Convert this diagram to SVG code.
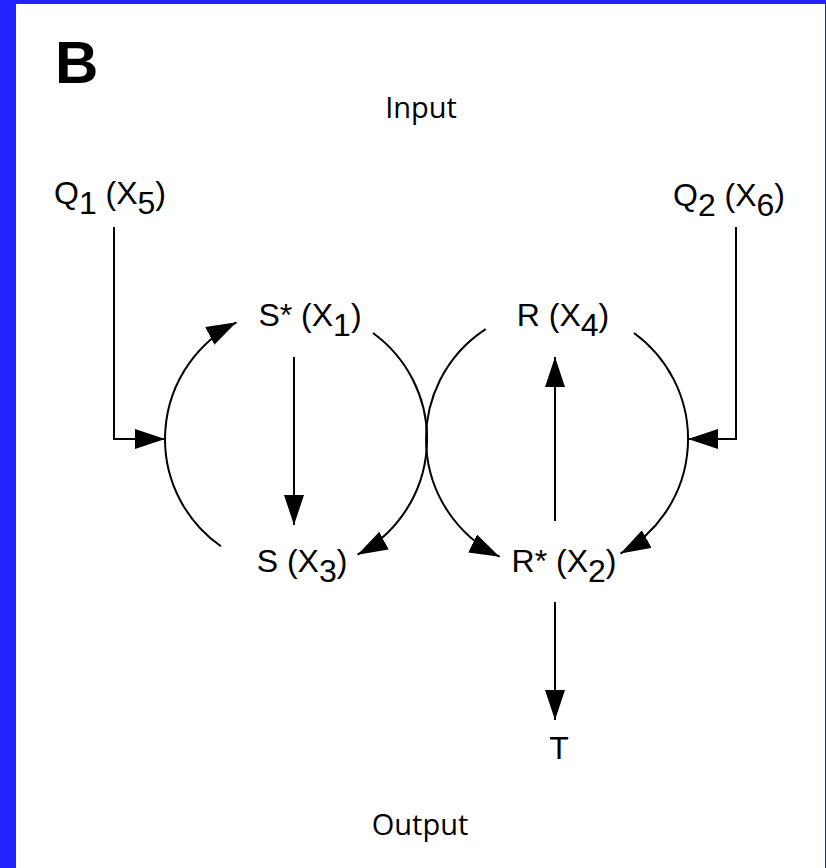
<svg xmlns="http://www.w3.org/2000/svg" width="826" height="868" viewBox="0 0 826 868">
<defs>
<style>
.lbl{font-family:"Liberation Sans",Arial,sans-serif;font-size:32px;fill:#000;text-anchor:middle}
.io{font-family:"Open Sans","Liberation Sans",sans-serif;font-size:29px;fill:#000;text-anchor:middle}
.ln{fill:none;stroke:#000;stroke-width:2}
</style>
<marker id="ah" markerUnits="userSpaceOnUse" markerWidth="30" markerHeight="20" refX="30" refY="10" orient="auto" viewBox="0 0 30 20">
<path d="M0,0 L30,10 L0,20 z" fill="#000"/>
</marker>
</defs>
<rect x="0" y="0" width="826" height="868" fill="#fff"/>
<rect x="0" y="0" width="16" height="868" fill="#2222ff"/>
<rect x="0" y="0" width="826" height="4" fill="#2222ff"/>
<rect x="825" y="0" width="1" height="868" fill="#2222ff"/>
<text x="55" y="83" font-family="Liberation Sans,Arial,sans-serif" font-weight="bold" font-size="60">B</text>
<text class="io" x="421" y="118">Input</text>
<text class="io" x="420" y="835">Output</text>
<g id="connectors">
<path class="ln" marker-end="url(#ah)" d="M220.9,546.3 A131,131 0 0 1 236.5,322.3"/>
<path class="ln" marker-end="url(#ah)" d="M373,333 A131,131 0 0 1 357.5,554.7"/>
<path class="ln" marker-end="url(#ah)" d="M485.7,329.1 A131,131 0 0 0 499.6,556.7"/>
<path class="ln" marker-end="url(#ah)" d="M634,333 A131,131 0 0 1 620.5,553.6"/>
<path class="ln" marker-end="url(#ah)" d="M114,227 V439 H165"/>
<path class="ln" marker-end="url(#ah)" d="M736,227 V439 H688"/>
<path class="ln" marker-end="url(#ah)" d="M294,357 V525"/>
<path class="ln" marker-end="url(#ah)" d="M555,521 V357"/>
<path class="ln" marker-end="url(#ah)" d="M555,602 V720"/>
</g>
<g id="Q1"><text class="lbl" x="110" y="204">Q<tspan dy="10">1</tspan><tspan dy="-10"> (X</tspan><tspan dy="10">5</tspan><tspan dy="-10">)</tspan></text></g>
<g id="Q2"><text class="lbl" x="729" y="206">Q<tspan dy="10">2</tspan><tspan dy="-10"> (X</tspan><tspan dy="10">6</tspan><tspan dy="-10">)</tspan></text></g>
<g id="Sstar"><text class="lbl" x="310" y="326">S* (X<tspan dy="10">1</tspan><tspan dy="-10">)</tspan></text></g>
<g id="R"><text class="lbl" x="563" y="326">R (X<tspan dy="10">4</tspan><tspan dy="-10">)</tspan></text></g>
<g id="S"><text class="lbl" x="302" y="572">S (X<tspan dy="10">3</tspan><tspan dy="-10">)</tspan></text></g>
<g id="Rstar"><text class="lbl" x="564" y="572">R* (X<tspan dy="10">2</tspan><tspan dy="-10">)</tspan></text></g>
<g id="T"><text class="lbl" x="559" y="759">T</text></g>
</svg>
